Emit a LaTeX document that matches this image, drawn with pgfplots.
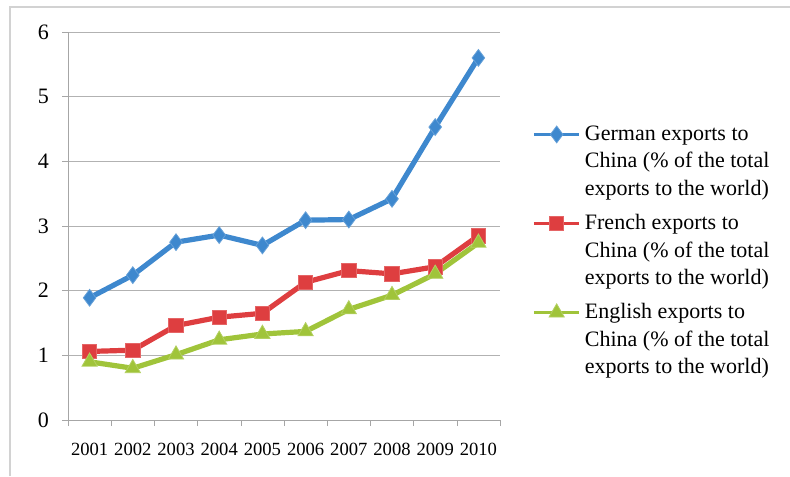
\documentclass[border=0pt]{standalone}
\usepackage{pgfplots}
\pgfplotsset{compat=1.18}
\usepackage{fontspec}
\setmainfont{Liberation Serif}
\definecolor{gblue}{RGB}{62,136,206}
\definecolor{fred}{RGB}{222,62,64}
\definecolor{egreen}{RGB}{160,196,58}
\begin{document}
\begin{tikzpicture}
\path[use as bounding box] (0,0) rectangle (395pt,238pt);
\draw[gray!35, line width=0.6pt] (5pt,0) -- (5pt,234.5pt) -- (395pt,234.5pt);
\begin{axis}[
  at={(34pt,28pt)}, anchor=south west,
  scale only axis, width=216pt, height=194pt,
  xmin=0.5, xmax=10.5, ymin=0, ymax=6,
  axis x line=bottom, axis y line=left,
  axis line style={-, gray!70, line width=0.5pt},
  xtick={1,...,10},
  xticklabels={2001,2002,2003,2004,2005,2006,2007,2008,2009,2010},
  major x tick style={draw=none},
  minor xtick={0.5,1.5,...,10.5},
  minor x tick style={gray!70},
  minor tick length=3pt,
  ytick={0,...,6},
  ymajorgrids, grid style={gray!60, line width=0.5pt},
  tick align=outside, major tick length=3pt,
  y tick style={gray!70},
  /pgf/number format/assume math mode=true,
  xticklabel style={font=\fontsize{9.3}{10}\selectfont, yshift=-5pt},
  yticklabel style={font=\fontsize{11}{12}\selectfont, xshift=-3pt},
  legend style={at={(1,0.435)}, anchor=west, xshift=16pt, draw=none, fill=none,
    inner sep=0pt, row sep=4pt, font=\fontsize{11}{13.75}\selectfont,
    cells={align=left, anchor=west}},
  legend image code/.code={\draw[mark repeat=2,mark phase=2,line width=1.5pt] plot coordinates {(0cm,13.75pt) (0.4cm,13.75pt) (0.8cm,13.75pt)};},
]
\addplot[gblue, line width=2.6pt, mark=diamond*, mark size=4.2pt, mark options={fill=gblue, draw=gblue!80!white, line width=0.4pt}]
  coordinates {(1,1.89) (2,2.24) (3,2.75) (4,2.86) (5,2.70) (6,3.09) (7,3.10) (8,3.42) (9,4.53) (10,5.60)};
\addlegendentry{German exports to\\China (\% of the total\\exports to the world)}
\addplot[fred, line width=2.6pt, mark=square*, mark size=3.6pt, mark options={fill=fred, draw=fred!80!white, line width=0.4pt}]
  coordinates {(1,1.06) (2,1.08) (3,1.46) (4,1.59) (5,1.65) (6,2.13) (7,2.31) (8,2.26) (9,2.37) (10,2.85)};
\addlegendentry{French exports to\\China (\% of the total\\exports to the world)}
\addplot[egreen, line width=2.6pt, mark=triangle*, mark size=4.4pt, mark options={fill=egreen, draw=egreen!80!white, line width=0.4pt}]
  coordinates {(1,0.90) (2,0.80) (3,1.01) (4,1.24) (5,1.33) (6,1.37) (7,1.71) (8,1.93) (9,2.26) (10,2.74)};
\addlegendentry{English exports to\\China (\% of the total\\exports to the world)}
\end{axis}
\end{tikzpicture}
\end{document}
